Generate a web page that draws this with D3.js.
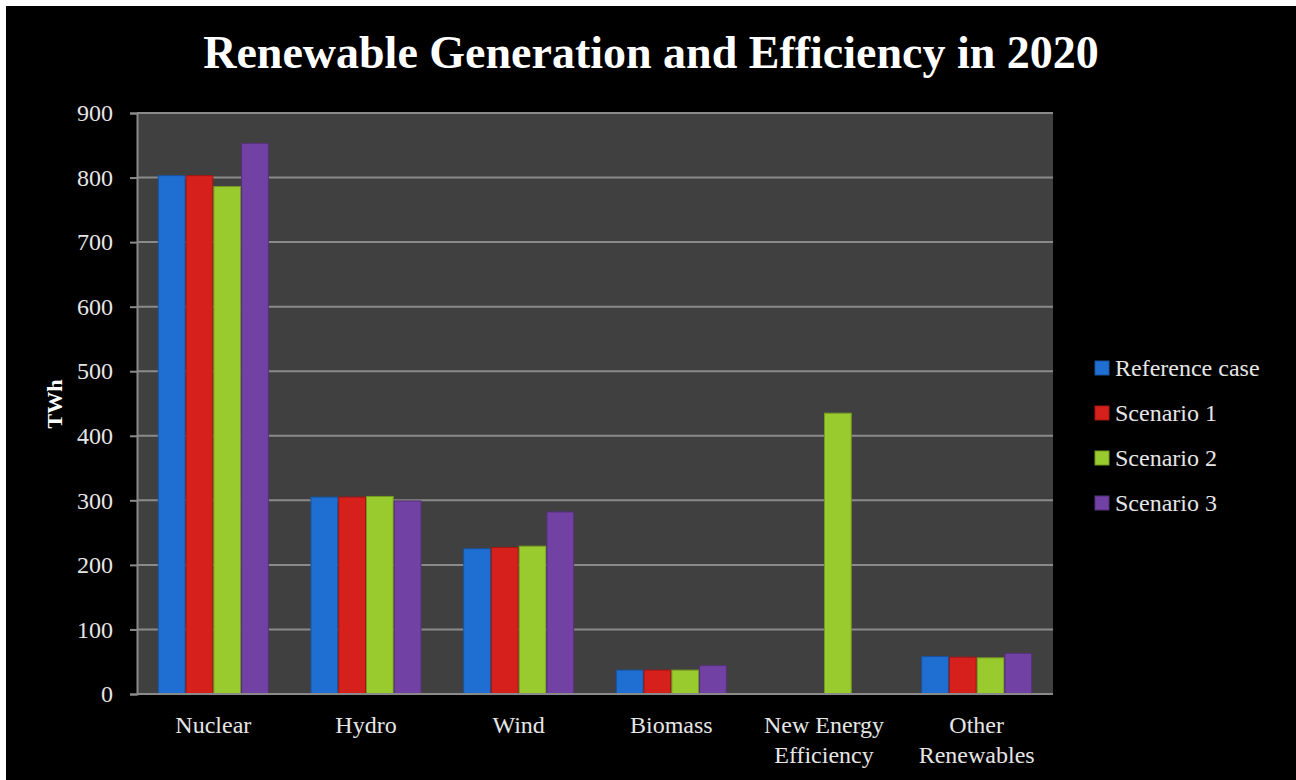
<!DOCTYPE html>
<html>
<head>
<meta charset="utf-8">
<title>Renewable Generation and Efficiency in 2020</title>
<script src="https://cdn.jsdelivr.net/npm/d3@7"></script>
<style>
  html, body { margin: 0; padding: 0; background: #fff; }
  svg { display: block; }
  text { font-family: "Liberation Serif", "Times New Roman", serif; }
</style>
</head>
<body>
<div id="chart"></div>
<script>
// data (TWh)
var categories = ["Nuclear", "Hydro", "Wind", "Biomass", "New Energy Efficiency", "Other Renewables"];
var categoryLines = [["Nuclear"], ["Hydro"], ["Wind"], ["Biomass"], ["New Energy", "Efficiency"], ["Other", "Renewables"]];
var seriesNames = ["Reference case", "Scenario 1", "Scenario 2", "Scenario 3"];
var referenceCase = [803, 305, 225, 37, 0, 58];
var scenario1 = [803, 305, 227, 37, 0, 57];
var scenario2 = [786, 306, 229, 37, 435, 56];
var scenario3 = [853, 299, 282, 44, 0, 63];
var yTicks = [0, 100, 200, 300, 400, 500, 600, 700, 800, 900];

var seriesValues = [referenceCase, scenario1, scenario2, scenario3];
var fills = ["#1f6fd2", "#d6201c", "#9acb2e", "#7141a4"];
var strokes = ["#18549e", "#a11814", "#749a22", "#55317b"];
var serif = "'Liberation Serif', 'Times New Roman', serif";

var W = 1296, H = 780;
var plot = { left: 137, top: 113, right: 1053, bottom: 694 };

var svg = d3.select("#chart").append("svg").attr("width", W).attr("height", H);

// black card with thin white margin at top/left
svg.append("rect").attr("x", 6).attr("y", 6).attr("width", W - 6).attr("height", H - 6).attr("fill", "#000");

svg.append("text")
  .attr("x", 651).attr("y", 68)
  .attr("text-anchor", "middle")
  .attr("fill", "#fff")
  .style("font-family", serif)
  .style("font-size", "46px").style("font-weight", "bold")
  .text("Renewable Generation and Efficiency in 2020");

var x0 = d3.scaleBand().domain(categories).range([plot.left, plot.right]).paddingInner(0).paddingOuter(0);
var bw = x0.bandwidth() / 5.5;
var x1 = d3.scaleBand().domain(seriesNames).range([bw * 0.75, bw * 4.75]);
var y = d3.scaleLinear().domain([0, 900]).range([plot.bottom, plot.top]);

svg.append("rect")
  .attr("x", plot.left).attr("y", plot.top)
  .attr("width", plot.right - plot.left).attr("height", plot.bottom - plot.top)
  .attr("fill", "#404040");

// gridlines
svg.append("g").selectAll("line").data(yTicks.slice(1)).enter().append("line")
  .attr("x1", plot.left).attr("x2", plot.right)
  .attr("y1", function (d) { return y(d); }).attr("y2", function (d) { return y(d); })
  .attr("stroke", "#8a8a8a").attr("stroke-width", 2);

// bars
var groups = svg.append("g").selectAll("g").data(categories).enter().append("g")
  .attr("transform", function (c) { return "translate(" + x0(c) + ",0)"; });

groups.selectAll("rect")
  .data(function (c, ci) {
    return seriesNames.map(function (s, si) { return { s: s, si: si, v: seriesValues[si][ci] }; })
      .filter(function (d) { return d.v > 0; });
  })
  .enter().append("rect")
  .attr("x", function (d) { return x1(d.s) + 0.5; })
  .attr("y", function (d) { return y(d.v); })
  .attr("width", x1.bandwidth() - 1)
  .attr("height", function (d) { return y(0) - y(d.v); })
  .attr("fill", function (d) { return fills[d.si]; })
  .attr("stroke", function (d) { return strokes[d.si]; })
  .attr("stroke-width", 1);

// y axis
var yAxis = d3.axisLeft(y).tickValues(yTicks).tickSize(7).tickPadding(17);
var gy = svg.append("g").attr("transform", "translate(" + plot.left + ",0)").call(yAxis);
gy.attr("font-family", null);
gy.select(".domain").attr("stroke", "#8a8a8a").attr("stroke-width", 2);
gy.selectAll(".tick line").attr("stroke", "#8a8a8a").attr("stroke-width", 2);
gy.selectAll(".tick text").attr("fill", "#e6e6e6").style("font-size", "24px")
  .style("font-family", serif);

// x axis baseline
svg.append("line")
  .attr("x1", plot.left).attr("x2", plot.right)
  .attr("y1", plot.bottom).attr("y2", plot.bottom)
  .attr("stroke", "#8a8a8a").attr("stroke-width", 2);

// category labels
var xl = svg.append("g").selectAll("text").data(categories).enter().append("text")
  .attr("x", function (c) { return x0(c) + x0.bandwidth() / 2; })
  .attr("y", 733)
  .attr("text-anchor", "middle")
  .attr("fill", "#e6e6e6")
  .style("font-family", serif)
  .style("font-size", "24px");
xl.each(function (c, i) {
  var t = d3.select(this);
  categoryLines[i].forEach(function (line, li) {
    t.append("tspan").attr("x", x0(c) + x0.bandwidth() / 2).attr("dy", li === 0 ? 0 : 30).text(line);
  });
});

// y axis title
svg.append("text")
  .attr("transform", "translate(62,404) rotate(-90)")
  .attr("text-anchor", "middle")
  .attr("fill", "#fff")
  .style("font-family", serif)
  .style("font-size", "22px").style("font-weight", "bold")
  .text("TWh");

// legend
var legend = svg.append("g").selectAll("g").data(seriesNames).enter().append("g")
  .attr("transform", function (d, i) { return "translate(1095," + (368 + i * 45) + ")"; });
legend.append("rect")
  .attr("x", 0).attr("y", -7).attr("width", 14).attr("height", 14)
  .attr("fill", function (d, i) { return fills[i]; })
  .attr("stroke", function (d, i) { return strokes[i]; });
legend.append("text")
  .attr("x", 20).attr("y", 8)
  .attr("fill", "#e6e6e6")
  .style("font-family", serif)
  .style("font-size", "24px")
  .text(function (d) { return d; });
</script>
</body>
</html>
